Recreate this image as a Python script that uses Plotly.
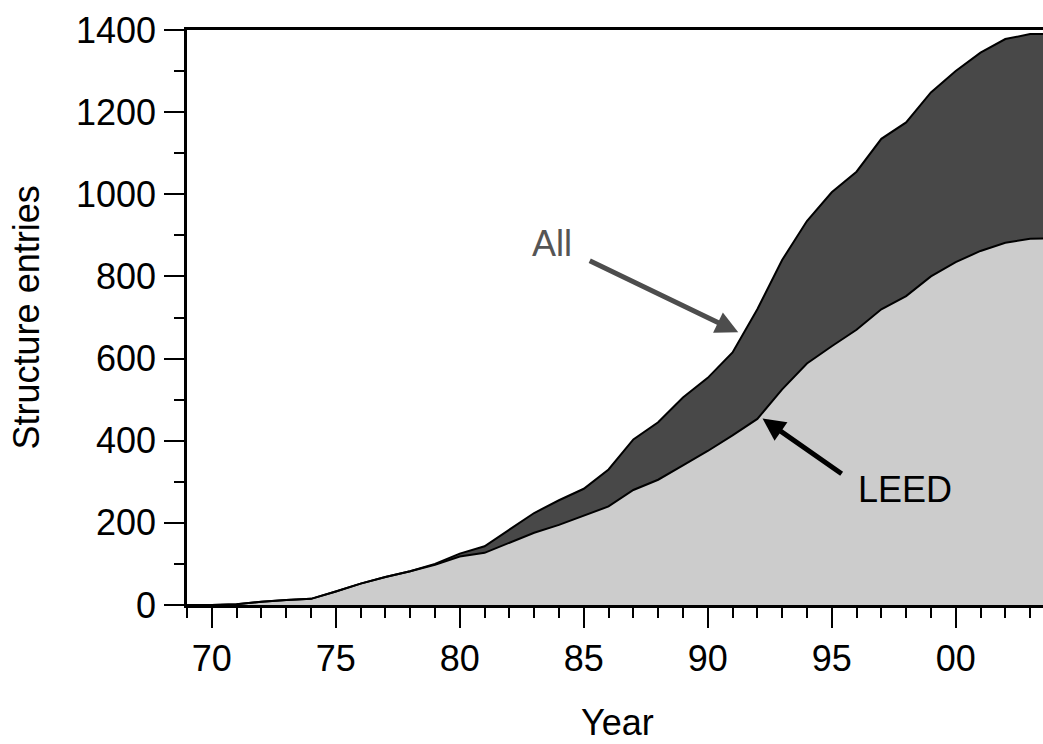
import plotly.graph_objects as go

years = [1969, 1970, 1971, 1972, 1973, 1974, 1975, 1976, 1977, 1978, 1979, 1980,
         1981, 1982, 1983, 1984, 1985, 1986, 1987, 1988, 1989, 1990, 1991, 1992,
         1993, 1994, 1995, 1996, 1997, 1998, 1999, 2000, 2001, 2002, 2003, 2004]
leed = [0, 0, 2, 8, 12, 15, 33, 52, 68, 82, 98, 118,
        127, 152, 176, 195, 218, 240, 280, 305, 340, 375, 413, 453,
        525, 588, 630, 670, 720, 752, 800, 835, 862, 882, 892, 893]
all_entries = [0, 0, 2, 8, 12, 15, 33, 52, 68, 82, 100, 125,
               143, 183, 224, 255, 283, 330, 403, 445, 505, 553, 615, 720,
               840, 935, 1005, 1055, 1135, 1175, 1248, 1300, 1345, 1378, 1390, 1391]

tick_years = [1970, 1975, 1980, 1985, 1990, 1995, 2000]
tick_labels = ["70", "75", "80", "85", "90", "95", "00"]

FONT = "Liberation Sans, Arial, Helvetica, sans-serif"
FS = 36

fig = go.Figure()
fig.add_trace(go.Scatter(x=years, y=leed, mode="lines", fill="tozeroy",
                         fillcolor="#cccccc", line=dict(color="black", width=2),
                         showlegend=False, hoverinfo="skip"))
fig.add_trace(go.Scatter(x=years, y=all_entries, mode="lines", fill="tonexty",
                         fillcolor="#484848", line=dict(color="black", width=2),
                         showlegend=False, hoverinfo="skip"))

# arrows
fig.add_annotation(x=1991.23, y=664, ax=1985.18, ay=840, xref="x", yref="y",
                   axref="x", ayref="y", text="", showarrow=True,
                   arrowhead=2, arrowsize=0.9, arrowwidth=5, arrowcolor="#4d4d4d")
fig.add_annotation(x=1992.21, y=454, ax=1995.46, ay=317, xref="x", yref="y",
                   axref="x", ayref="y", text="", showarrow=True,
                   arrowhead=2, arrowsize=0.9, arrowwidth=5, arrowcolor="black")
# labels
fig.add_annotation(x=1983.71, y=881, xref="x", yref="y", text="All", showarrow=False,
                   font=dict(family=FONT, size=FS, color="#555555"),
                   xanchor="center", yanchor="middle")
fig.add_annotation(x=1997.95, y=281, xref="x", yref="y", text="LEED", showarrow=False,
                   font=dict(family=FONT, size=FS, color="black"),
                   xanchor="center", yanchor="middle")
# axis titles
fig.add_annotation(x=-0.187, y=0.5, xref="paper", yref="paper", text="Structure entries",
                   textangle=-90, showarrow=False, xanchor="center", yanchor="middle",
                   font=dict(family=FONT, size=FS, color="black"))
fig.add_annotation(x=0.503, y=-0.204, xref="paper", yref="paper", text="Year",
                   showarrow=False, xanchor="center", yanchor="middle",
                   font=dict(family=FONT, size=FS, color="black"))

fig.update_xaxes(range=[1969, 2003.52], tickvals=tick_years, ticktext=tick_labels,
                 ticks="outside", ticklen=20, tickwidth=2, tickcolor="black",
                 minor=dict(ticks="outside", dtick=1, tick0=1969, ticklen=10,
                            tickwidth=1.5, tickcolor="black"),
                 showline=True, linecolor="black", linewidth=2.5, mirror=True,
                 showgrid=False, zeroline=False,
                 tickfont=dict(family=FONT, size=FS, color="black"),
                 ticklabelstandoff=0)
fig.update_yaxes(range=[0, 1400], dtick=200, tick0=0,
                 ticks="outside", ticklen=20, tickwidth=2, tickcolor="black",
                 minor=dict(ticks="outside", dtick=100, tick0=0, ticklen=10,
                            tickwidth=1.5, tickcolor="black"),
                 showline=True, linecolor="black", linewidth=2.5, mirror=False,
                 showgrid=False, zeroline=False,
                 tickfont=dict(family=FONT, size=FS, color="black"),
                 ticklabelstandoff=1)

fig.update_layout(width=1043, height=744, margin=dict(l=187, r=0, t=30, b=139),
                  plot_bgcolor="white", paper_bgcolor="white", showlegend=False)

fig.write_html("out.html")
